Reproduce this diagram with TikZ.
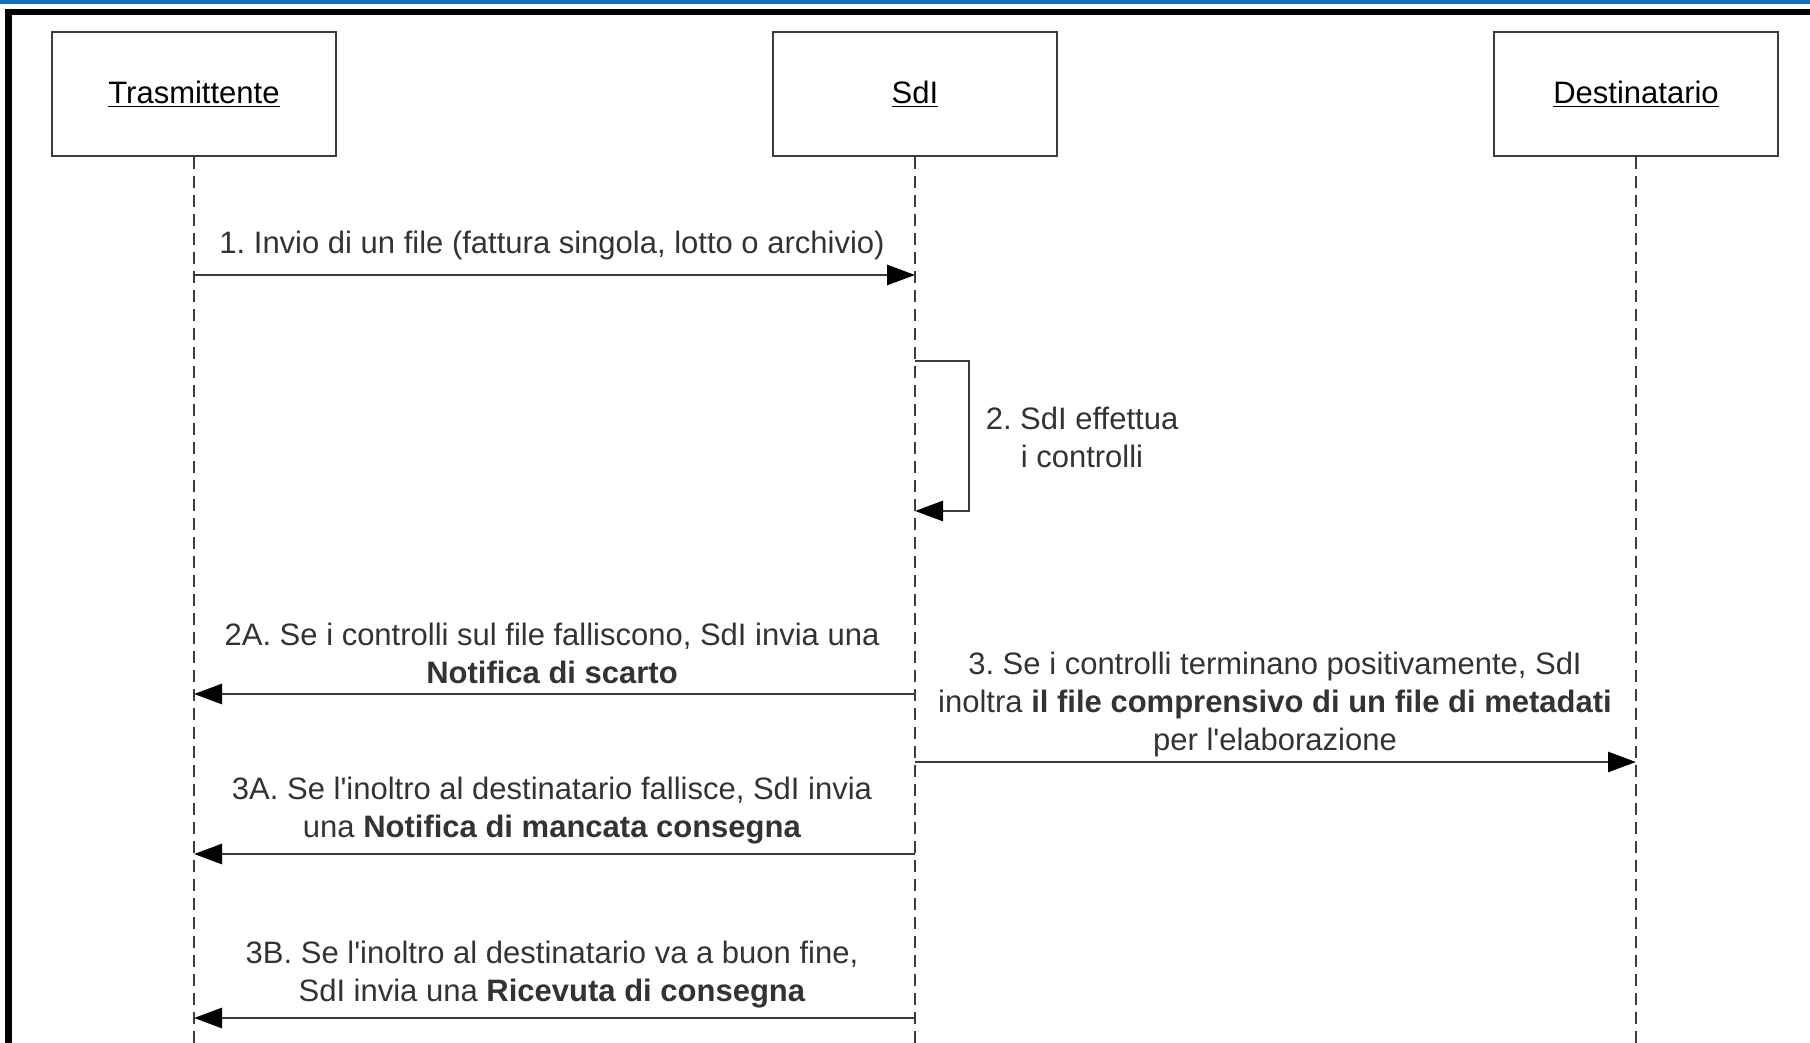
\documentclass[tikz,border=0pt]{standalone}
\usepackage{fontspec}
\setmainfont{Liberation Sans}
\usetikzlibrary{arrows.meta}
\definecolor{barblue}{RGB}{20,110,190}
\definecolor{linegray}{RGB}{60,60,60}
\frenchspacing

\begin{document}
\begin{tikzpicture}[x=0.5pt, y=-0.5pt,
    actor/.style={draw=linegray, line width=1.4pt, minimum width=142pt, minimum height=62pt, font=\fontsize{15.5}{19}\selectfont},
    lifeline/.style={linegray, line width=1.3pt, dash pattern=on 6pt off 3.5pt},
    msg/.style={align=center, text=black!80, font=\fontsize{15.5}{19}\selectfont, inner sep=0pt},
    call/.style={linegray, line width=1.4pt, -{Triangle[length=14pt, width=10pt, color=black]}}]
    % frame
    \useasboundingbox (0,0) rectangle (1810,1043);
    \fill[barblue] (0,0) rectangle (1810,4);
    \fill[black] (5,9) rectangle (1810,15);
    \fill[black] (5,9) rectangle (12,1043);
    % actors and lifelines
    \node[actor] (tx) at (194,94) {\underline{Trasmittente}};
    \node[actor] (sdi) at (915,94) {\underline{SdI}};
    \node[actor] (dest) at (1636,94) {\underline{Destinatario}};
    \coordinate (txend) at (194,1043);
    \coordinate (sdiend) at (915,1043);
    \coordinate (destend) at (1636,1043);
    \draw[lifeline] (tx) -- (txend);
    \draw[lifeline] (sdi) -- (sdiend);
    \draw[lifeline] (dest) -- (destend);
    % 1
    \coordinate (t1) at (194,275); \coordinate (s1) at (915,275);
    \draw[call] (t1) -- (s1);
    \node[msg] (m1) at (552,245) {1. Invio di un file (fattura singola, lotto o archivio)};
    % 2 (self call)
    \coordinate (s2a) at (915,361); \coordinate (s2b) at (915,511);
    \draw[call] (s2a) -- ++(54,0) |- (s2b);
    \node[msg] (m2) at (1082,437) {2. SdI effettua\\i controlli};
    % 2A
    \coordinate (s2A) at (915,694); \coordinate (t2A) at (194,694);
    \draw[call] (s2A) -- (t2A);
    \node[msg] (m2A) at (552,653) {2A. Se i controlli sul file falliscono, SdI invia una\\\textbf{Notifica di scarto}};
    % 3
    \coordinate (s3) at (915,762); \coordinate (d3) at (1636,762);
    \draw[call] (s3) -- (d3);
    \node[msg] (m3) at (1275,704) {3. Se i controlli terminano positivamente, SdI\\inoltra \textbf{il file comprensivo di un file di metadati}\\per l\textquotesingle elaborazione};
    % 3A
    \coordinate (s3A) at (915,854); \coordinate (t3A) at (194,854);
    \draw[call] (s3A) -- (t3A);
    \node[msg] (m3A) at (552,811) {3A. Se l\textquotesingle inoltro al destinatario fallisce, SdI invia\\una \textbf{Notifica di mancata consegna}};
    % 3B
    \coordinate (s3B) at (915,1018); \coordinate (t3B) at (194,1018);
    \draw[call] (s3B) -- (t3B);
    \node[msg] (m3B) at (552,975) {3B. Se l\textquotesingle inoltro al destinatario va a buon fine,\\SdI invia una \textbf{Ricevuta di consegna}};
\end{tikzpicture}
\end{document}
